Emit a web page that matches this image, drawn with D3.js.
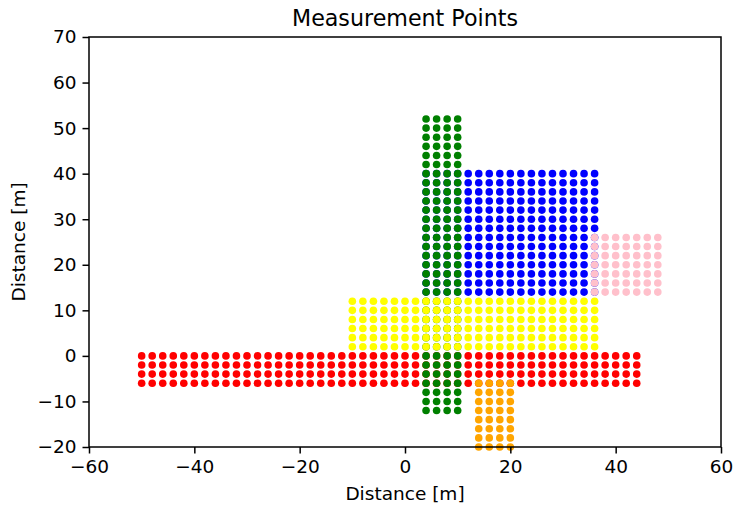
<!DOCTYPE html>
<html>
<head>
<meta charset="utf-8">
<script src="https://cdn.jsdelivr.net/npm/d3@7"></script>
<style>
  body { margin: 0; background: #fff; }
  svg { font-family: "DejaVu Sans", sans-serif; }
</style>
</head>
<body>
<svg id="grafica" width="735" height="507"></svg>
<script>
// measurement grids, one pair of x / y lists per zone (metres)
var redX = [-50,-48,-46,-44,-42,-40,-38,-36,-34,-32,-30,-28,-26,-24,-22,-20,-18,-16,-14,-12,-10,-8,-6,-4,-2,0,2,4,6,8,10,12,14,16,18,20,22,24,26,28,30,32,34,36,38,40,42,44];
var redY = [-6,-4,-2,0];
var blueX = [4,6,8,10,12,14,16,18,20,22,24,26,28,30,32,34,36];
var blueY = [14,16,18,20,22,24,26,28,30,32,34,36,38,40];
var greenX = [4,6,8,10];
var greenY = [-12,-10,-8,-6,-4,-2,0,2,4,6,8,10,12,14,16,18,20,22,24,26,28,30,32,34,36,38,40,42,44,46,48,50,52];
var yellowX = [-10,-8,-6,-4,-2,0,2,4,6,8,10,12,14,16,18,20,22,24,26,28,30,32,34,36];
var yellowY = [2,4,6,8,10,12];
var pinkX = [36,38,40,42,44,46,48];
var pinkY = [14,16,18,20,22,24,26];
var orangeX = [14,16,18,20];
var orangeY = [-20,-18,-16,-14,-12,-10,-8,-6];

var xTicks = [-60,-40,-20,0,20,40,60];
var yTicks = [-20,-10,0,10,20,30,40,50,60,70];

// drawing order matters, later zones sit on top
var zones = [
  {color: "red", xs: redX, ys: redY},
  {color: "blue", xs: blueX, ys: blueY},
  {color: "green", xs: greenX, ys: greenY},
  {color: "yellow", xs: yellowX, ys: yellowY},
  {color: "pink", xs: pinkX, ys: pinkY},
  {color: "orange", xs: orangeX, ys: orangeY}
];

var svg = d3.select("#grafica"),
  margin = {top: 37, bottom: 60, left: 89, right: 14},
  width = +svg.attr("width"),
  height = +svg.attr("height");

var x = d3.scaleLinear().domain([-60, 60]).range([margin.left, width - margin.right]);
var y = d3.scaleLinear().domain([-20, 70]).range([height - margin.bottom, margin.top]);

var fmt = d3.format("d");

// points
zones.forEach(function(z) {
  var pts = [];
  z.ys.forEach(function(yy) {
    z.xs.forEach(function(xx) { pts.push([xx, yy]); });
  });
  svg.append("g").selectAll("circle")
    .data(pts)
  .enter().append("circle")
    .attr("cx", d => x(d[0]))
    .attr("cy", d => y(d[1]))
    .attr("r", 3.8)
    .attr("fill", z.color);
});

var xAxis = svg.append("g")
  .attr("transform", `translate(0,${height - margin.bottom})`)
  .call(d3.axisBottom(x).tickValues(xTicks).tickFormat(fmt).tickSize(6.5).tickPadding(6).tickSizeOuter(0));

var yAxis = svg.append("g")
  .attr("transform", `translate(${margin.left},0)`)
  .call(d3.axisLeft(y).tickValues(yTicks).tickFormat(fmt).tickSize(6.5).tickPadding(6).tickSizeOuter(0));

[xAxis, yAxis].forEach(function(a) {
  a.select(".domain").remove();
  a.selectAll("line").attr("stroke", "#000").attr("stroke-width", 1.5);
  a.selectAll("text").attr("font-size", 18.5).attr("fill", "#000").attr("font-family", "DejaVu Sans");
});

// frame
svg.append("rect")
  .attr("x", margin.left)
  .attr("y", margin.top)
  .attr("width", width - margin.left - margin.right)
  .attr("height", height - margin.top - margin.bottom)
  .attr("fill", "none")
  .attr("stroke", "#000")
  .attr("stroke-width", 1.5);

svg.append("text")
  .attr("x", (margin.left + width - margin.right) / 2)
  .attr("y", 26)
  .attr("text-anchor", "middle")
  .attr("font-size", 22.2)
  .text("Measurement Points");

svg.append("text")
  .attr("x", (margin.left + width - margin.right) / 2)
  .attr("y", 500)
  .attr("text-anchor", "middle")
  .attr("font-size", 18.5)
  .text("Distance [m]");

svg.append("text")
  .attr("transform", `translate(25,${(margin.top + height - margin.bottom) / 2}) rotate(-90)`)
  .attr("text-anchor", "middle")
  .attr("font-size", 18.5)
  .text("Distance [m]");
</script>
</body>
</html>
